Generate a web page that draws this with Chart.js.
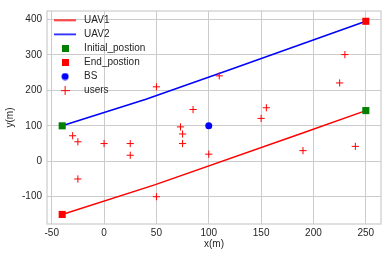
<!DOCTYPE html>
<html><head><meta charset="utf-8">
<script src="https://cdn.jsdelivr.net/npm/chart.js@4.4.0/dist/chart.umd.min.js"></script>
<style>html,body{margin:0;padding:0;background:#fff;} canvas{display:block;}</style>
</head><body>
<canvas id="c" width="388" height="257"></canvas>
<script>
const uav1X = [-40, 49, 187, 250];
const uav1Y = [-150, -66, 77, 143];
const uav2X = [-40, 40, 120, 250];
const uav2Y = [100, 175, 258, 395];
const initialX = [-40, 250];
const initialY = [100, 143];
const endX = [250, -40];
const endY = [395, -150];
const bsX = [100];
const bsY = [100];
const usersX = [-30, -25, 0, 25, 25, -25, 50, 73, 75, 75, 85, 100, 50, 110, 155, 150, 230, 225, 190, 240];
const usersY = [72, 55, 50, 50, 17, -50, -100, 97, 77, 50, 146, 20, 210, 241, 151, 121, 301, 221, 30, 42];
const xTicks = [-50, 0, 50, 100, 150, 200, 250];
const yTicks = [-100, 0, 100, 200, 300, 400];
const legendLabels = ['UAV1', 'UAV2', 'Initial_postion', 'End_postion', 'BS', 'users'];

const FONT = 'Liberation Sans, Arial, sans-serif';
const TXT = '#262626';
const GRID = '#cccccc';
const pts = (xs, ys) => xs.map((x, i) => ({x, y: ys[i]}));

function icon(w, h, draw) {
  const c = document.createElement('canvas');
  c.width = w; c.height = h;
  draw(c.getContext('2d'));
  return c;
}
const icons = [
  icon(22, 3, g => { g.fillStyle = '#ff0000'; g.fillRect(0, 0.75, 22, 1.5); }),
  icon(22, 3, g => { g.fillStyle = '#0000ff'; g.fillRect(0, 0.75, 22, 1.5); }),
  icon(7, 7, g => { g.fillStyle = '#008000'; g.fillRect(0, 0, 7, 7); }),
  icon(7, 7, g => { g.fillStyle = '#ff0000'; g.fillRect(0, 0, 7, 7); }),
  icon(8, 8, g => { g.fillStyle = '#0000ff'; g.beginPath(); g.arc(4, 4, 3.5, 0, Math.PI * 2); g.fill(); }),
  icon(9, 9, g => { g.fillStyle = '#ff0000'; g.fillRect(0, 4, 9, 1); g.fillRect(4, 0, 1, 9); })
];

const bg = {
  id: 'bg',
  beforeDraw(chart) {
    const g = chart.ctx; g.save(); g.fillStyle = '#fff'; g.fillRect(0, 0, chart.width, chart.height); g.restore();
  },
  beforeDatasetsDraw(chart) {
    const a = chart.chartArea, g = chart.ctx;
    g.save(); g.strokeStyle = GRID; g.lineWidth = 1.2;
    g.strokeRect(a.left, a.top, a.right - a.left, a.bottom - a.top);
    g.restore();
  }
};

new Chart(document.getElementById('c'), {
  type: 'scatter',
  data: {
    datasets: [
      {label: 'UAV1', data: pts(uav1X, uav1Y), showLine: true, borderColor: '#ff0000', borderWidth: 1.5, pointRadius: 0, order: 6},
      {label: 'UAV2', data: pts(uav2X, uav2Y), showLine: true, borderColor: '#0000ff', borderWidth: 1.5, pointRadius: 0, order: 5},
      {label: 'Initial_postion', data: pts(initialX, initialY), pointStyle: 'rect', pointRadius: 5, backgroundColor: '#008000', borderColor: '#008000', borderWidth: 0, order: 4},
      {label: 'End_postion', data: pts(endX, endY), pointStyle: 'rect', pointRadius: 5, backgroundColor: '#ff0000', borderColor: '#ff0000', borderWidth: 0, order: 3},
      {label: 'BS', data: pts(bsX, bsY), pointStyle: 'circle', pointRadius: 3.5, backgroundColor: '#0000ff', borderColor: '#0000ff', borderWidth: 0, order: 2},
      {label: 'users', data: pts(usersX, usersY), pointStyle: 'cross', pointRadius: 3.6, backgroundColor: '#ff0000', borderColor: '#ff0000', borderWidth: 1, order: 1}
    ]
  },
  options: {
    responsive: false,
    animation: false,
    events: [],
    layout: {padding: {top: 7, right: 7, bottom: 0, left: 0}},
    plugins: {
      tooltip: {enabled: false},
      legend: {
        position: 'chartArea',
        align: 'start',
        title: {display: true, text: ' ', font: {size: 1, lineHeight: 1}, padding: 5},
        labels: {
          usePointStyle: true,
          pointStyleWidth: 28,
          boxHeight: 10,
          padding: 4.1,
          color: TXT,
          font: {family: FONT, size: 10},
          generateLabels: () => legendLabels.map((t, i) => ({
            text: t, pointStyle: icons[i], fillStyle: 'transparent', strokeStyle: 'transparent',
            lineWidth: 0, hidden: false, datasetIndex: i, fontColor: TXT
          }))
        }
      }
    },
    scales: {
      x: {
        type: 'linear', min: -54.5, max: 264.5,
        afterBuildTicks: s => { s.ticks = xTicks.map(v => ({value: v})); },
        afterFit: s => { s.height = 33; },
        grid: {color: GRID, lineWidth: 1, drawTicks: false},
        border: {display: false},
        ticks: {padding: 3, color: TXT, font: {family: FONT, size: 10}, maxRotation: 0, autoSkip: false},
        title: {display: true, text: 'x(m)', color: TXT, font: {family: FONT, size: 10}, padding: {top: 0, bottom: 7}}
      },
      y: {
        type: 'linear', min: -177, max: 424,
        afterBuildTicks: s => { s.ticks = yTicks.map(v => ({value: v})); },
        afterFit: s => { s.width = 47; },
        grid: {color: GRID, lineWidth: 1, drawTicks: false},
        border: {display: false},
        ticks: {padding: 5, color: TXT, font: {family: FONT, size: 10}, autoSkip: false},
        title: {display: true, text: 'y(m)', color: TXT, font: {family: FONT, size: 10}, padding: {top: 4, bottom: 0}}
      }
    }
  },
  plugins: [bg]
});
</script>
</body></html>
